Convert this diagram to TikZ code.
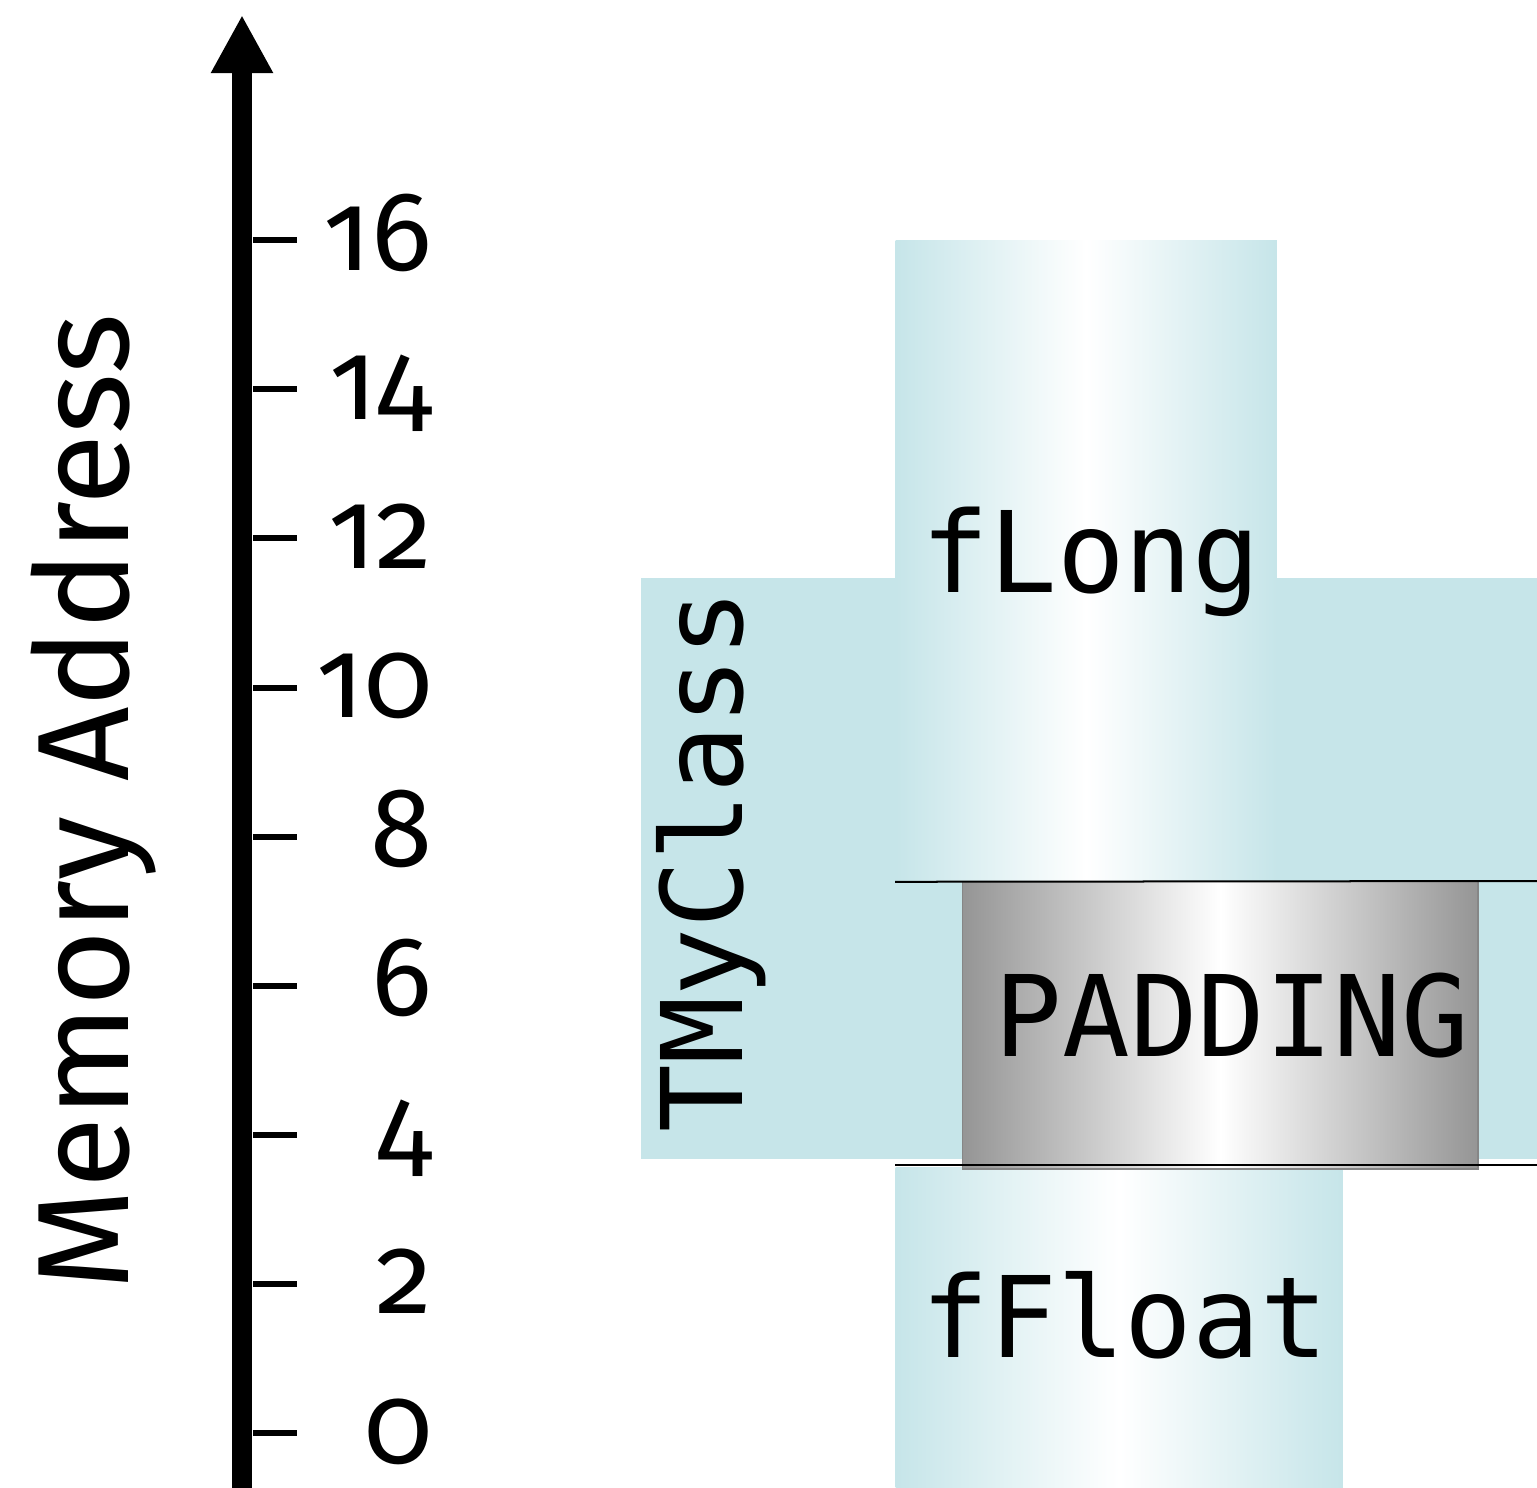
\documentclass[tikz,border=0pt]{standalone}
\usepackage{fontspec}
\setmainfont[Numbers=OldStyle]{Fira Sans}
\setmonofont{DejaVu Sans Mono}
\usepackage{tikz}
\usetikzlibrary{positioning, arrows.meta}
\definecolor{fieldblue}{HTML}{C6E5E9}
\definecolor{padgray}{HTML}{959595}
\tikzset{>={Triangle[width=0.58cm, length=0.58cm]}}
\tikzset{field/.style={rectangle, inner sep=0pt, anchor=north west,
    left color=fieldblue, right color=fieldblue, middle color=white}}
\tikzset{padding box/.style={rectangle, inner sep=0pt, anchor=north west, draw=padgray!90!black,
    left color=padgray, right color=padgray, middle color=white}}
\tikzset{code/.style={font=\ttfamily\fontsize{32}{38}\selectfont, inner sep=0pt}}
\tikzset{addr/.style={font=\fontsize{32}{38}\selectfont, inner sep=0pt}}
\tikzset{tick/.style={line width=0.06cm}}

\begin{document}
\begin{tikzpicture}[x=0.01cm, y=-0.01cm]
    \clip (0,0) rectangle (1537,1487);

    % the class record and its fields
    \node[rectangle, inner sep=0pt, anchor=north west, fill=fieldblue,
          minimum width=9.2cm, minimum height=5.81cm] (class) at (640,577) {};
    \node[field, minimum width=3.81cm, minimum height=6.40cm] (long-box) at (895,240) {};
    \node[field, minimum width=4.47cm, minimum height=3.4cm] (float-box) at (895,1167) {};
    \node[padding box, minimum width=5.15cm, minimum height=2.87cm] (pad-box) at (962,881) {};

    \node[code, rotate=90, anchor=base] (class-name) at (742,861) {TMyClass};
    \node[code, anchor=base west] (long-name) at (921,592) {fLong};
    \node[code, anchor=base west] (float-name) at (921,1357) {fFloat};
    \node[code, anchor=base west] (pad-name) at (994,1056) {PADDING};

    % field boundaries
    \coordinate (edge-top) at (1537,881);
    \coordinate (edge-bot) at (1537,1165);
    \draw[line width=0.02cm] (long-box.south west) -- (edge-top);
    \draw[line width=0.02cm] (895,1165) coordinate (bot-left) -- (edge-bot);

    % address axis
    \coordinate (axis-bot) at (242,1500);
    \coordinate (axis-top) at (242,15);
    \draw[->, line width=0.2cm] (axis-bot) -- (axis-top);

    \foreach \v in {0,2,...,16} {
        \coordinate (tick-\v) at (253,{1433-74.55*\v});
        \draw[tick] (tick-\v) -- ++(44,0);
        \node[addr, anchor=base east] (num-\v) at (433,{1463-74.55*\v}) {\v};
    }

    \node[font=\fontsize{37}{44}\selectfont, inner sep=0pt, rotate=90, anchor=base] (axis-name)
        at (128,802) {Memory Address};
\end{tikzpicture}
\end{document}
